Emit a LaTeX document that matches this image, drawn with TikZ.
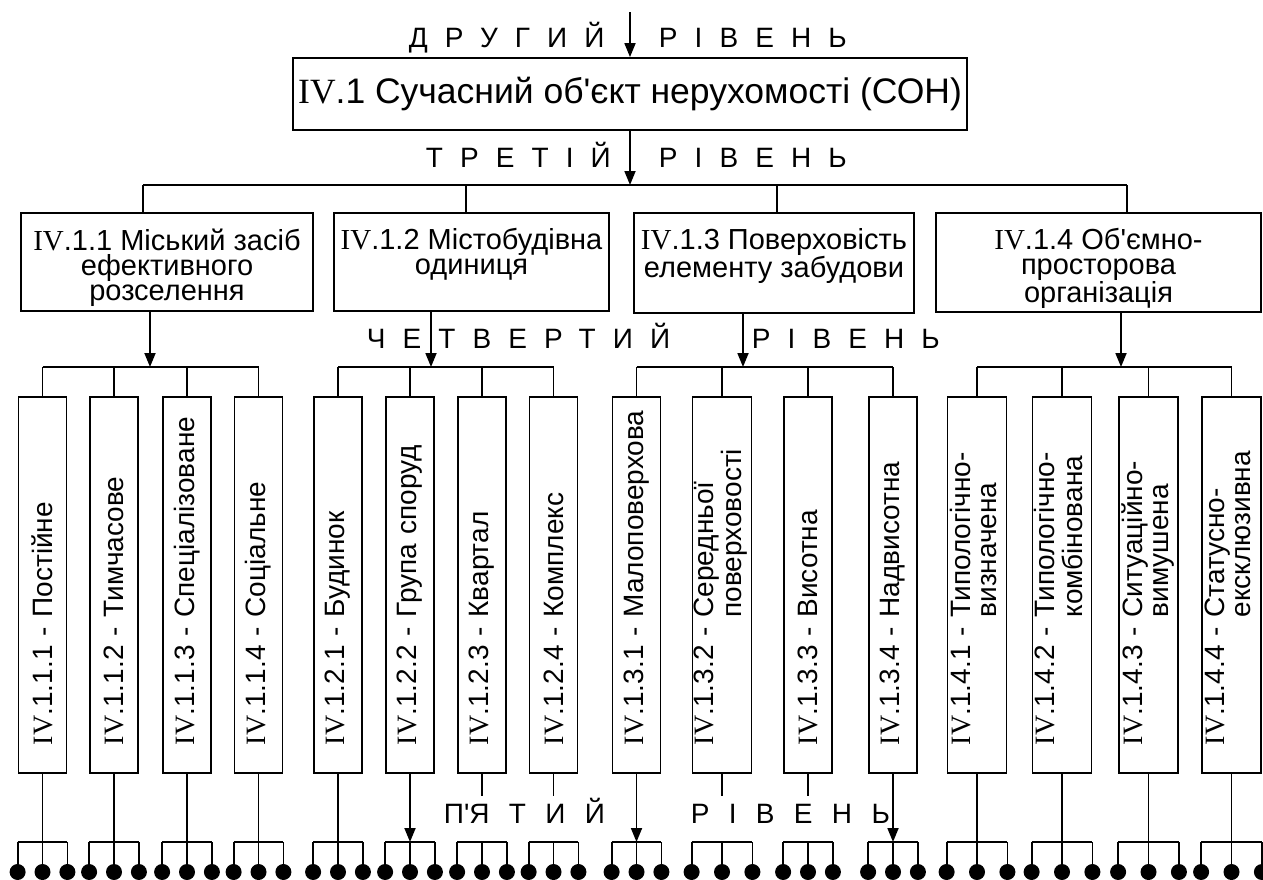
\documentclass[tikz,border=0pt]{standalone}
\usepackage{fontspec}
\setmainfont{Liberation Sans}
\newfontfamily\romfont{Liberation Serif}
\newfontfamily\widefont[LetterSpace=61]{Liberation Sans}
\newfontfamily\widerfont[LetterSpace=69]{Liberation Sans}
\usetikzlibrary{arrows.meta, calc}
\newcommand{\IV}{{\romfont IV}}
\newcommand{\twoline}[2]{\begin{tabular}[t]{@{}l@{}}#1\\#2\end{tabular}}
\newcommand{\toppad}{\rule{0pt}{33pt}}

\begin{document}
\begin{tikzpicture}[
  x=1pt, y=1pt,
  line width=1.8pt,
  topbox/.style={draw, minimum width=674pt, minimum height=72pt, inner sep=0pt,
                 font=\fontsize{35.5}{40}\selectfont},
  midbox/.style={draw, anchor=north, minimum height=98pt, inner xsep=4pt,
                 align=center, font=\fontsize{29}{25}\selectfont},
  tallbox/.style={draw, rotate=90, minimum width=376pt, minimum height=48pt,
                  text width=320pt, inner xsep=28pt, inner ysep=0pt, align=left,
                  font=\fontsize{28}{26}\selectfont,
                  execute at begin node={\hbox\bgroup},
                  execute at end node={\egroup}},
  wide/.style={minimum height=59pt},
  lvl/.style={anchor=base west, inner sep=0pt, font=\widefont\fontsize{28}{28}\selectfont},
  lvlb/.style={lvl, font=\widerfont\fontsize{28}{28}\selectfont},
  arr/.style={-{Triangle[length=14pt, width=11pt]}},
]
\useasboundingbox (0,0) rectangle (1263,-879);

% ── second level ─────────────────────────────────────────────────────────────
\coordinate (entry) at (630,-12);
\node[lvl] (l2a) at (408,-47) {ДРУГИЙ};
\node[lvl] (l2b) at (658,-47) {РІВЕНЬ};
\node[topbox] (son) at (630,-94)
    {\IV.1 Сучасний об\textquotesingle єкт нерухомості (СОН)};
\draw[arr] (entry) -- (son.north);

% ── third level ──────────────────────────────────────────────────────────────
\node[lvl] (l3a) at (425,-167) {ТРЕТІЙ};
\node[lvl] (l3b) at (658,-167) {РІВЕНЬ};
\coordinate (bus3) at (0,-185);
\node[midbox, minimum width=292pt] (b1) at (167,-212)
    {\toppad\IV.1.1 Міський засіб\\ефективного\\розселення};
\node[midbox, minimum width=275pt] (b2) at (471.5,-212)
    {\toppad\IV.1.2 Містобудівна\\одиниця\\\strut};
\node[midbox, minimum width=280pt] (b3) at (774,-212)
    {\toppad\IV.1.3 Поверховість\\елементу забудови\\\strut};
\node[midbox, minimum width=325pt] (b4) at (1098.5,-212)
    {\toppad\IV.1.4 Об\textquotesingle ємно-\\просторова\\організація};
\coordinate (d1) at (143,-185);
\coordinate (d2) at (466,-185);
\coordinate (d3) at (777,-185);
\coordinate (d4) at (1127,-185);
\draw[arr] (son.south) -- (son.south |- bus3);
\draw (d1) -- (d4);
\draw (d1) -- (d1 |- b1.north);
\draw (d2) -- (d2 |- b2.north);
\draw (d3) -- (d3 |- b3.north);
\draw (d4) -- (d4 |- b4.north);

% ── fourth level ─────────────────────────────────────────────────────────────
\node[lvl] (l4a) at (366,-348) {ЧЕТВЕРТИЙ};
\node[lvl] (l4b) at (751,-348) {РІВЕНЬ};
\coordinate (bus4) at (0,-367);
\node[tallbox] (t11) at (42.5,-585) {\IV.1.1.1 - Постійне};
\node[tallbox] (t12) at (114,-585) {\IV.1.1.2 - Тимчасове};
\node[tallbox] (t13) at (187,-585) {\IV.1.1.3 - Спеціалізоване};
\node[tallbox] (t14) at (258.5,-585) {\IV.1.1.4 - Соціальне};
\node[tallbox] (t21) at (338,-585) {\IV.1.2.1 - Будинок};
\node[tallbox] (t22) at (410,-585) {\IV.1.2.2 - Група споруд};
\node[tallbox] (t23) at (482,-585) {\IV.1.2.3 - Квартал};
\node[tallbox] (t24) at (553.5,-585) {\IV.1.2.4 - Комплекс};
\node[tallbox] (t31) at (636.5,-585) {\IV.1.3.1 - Малоповерхова};
\node[tallbox, wide] (t32) at (722,-585)
    {\IV.1.3.2 - \twoline{Середньої}{поверховості}};
\node[tallbox] (t33) at (808,-585) {\IV.1.3.3 - Висотна};
\node[tallbox] (t34) at (893,-585) {\IV.1.3.4 - Надвисотна};
\node[tallbox, wide] (t41) at (977,-585)
    {\IV.1.4.1 - \twoline{Типологічно-}{визначена}};
\node[tallbox, wide] (t42) at (1062,-585)
    {\IV.1.4.2 - \twoline{Типологічно-}{комбінована}};
\node[tallbox, wide] (t43) at (1148.5,-585)
    {\IV.1.4.3 - \twoline{Ситуаційно-}{вимушена}};
\node[tallbox, wide] (t44) at (1231.5,-585)
    {\IV.1.4.4 - \twoline{Статусно-}{ексклюзивна}};

\draw[arr] (b1.south -| 150,0) -- (bus4 -| 150,0);
\draw[arr] (b2.south -| 431,0) -- (bus4 -| 431,0);
\draw[arr] (b3.south -| 743,0) -- (bus4 -| 743,0);
\draw[arr] (b4.south -| 1121,0) -- (bus4 -| 1121,0);
\draw (t11.east |- bus4) -- (t14.east |- bus4);
\draw (t21.east |- bus4) -- (t24.east |- bus4);
\draw (t31.east |- bus4) -- (t34.east |- bus4);
\draw (t41.east |- bus4) -- (t44.east |- bus4);
\foreach \t in {t11,t12,t13,t14,t21,t22,t23,t24,t31,t32,t33,t34,t41,t42,t43,t44}
  \draw (\t.east |- bus4) -- (\t.east);

% ── fifth level ──────────────────────────────────────────────────────────────
\node[lvlb] (l5a) at (443,-823) {П\textquotesingle ЯТИЙ};
\node[lvlb] (l5b) at (690,-823) {РІВЕНЬ};
\coordinate (bus5) at (0,-842);
\coordinate (tips) at (0,-872);
\foreach \t in {t11,t12,t13,t14,t21,t41,t42,t43,t44}
  \draw (\t.west) -- (\t.west |- bus5);
\foreach \t in {t22,t31,t34}
  \draw[arr] (\t.west) -- (\t.west |- bus5);
\foreach \t in {t23,t24,t32,t33}
  \draw (\t.west) -- ++(0,-22);
\foreach \t in {t11,t12,t13,t14,t21,t22,t23,t24,t31,t32,t33,t34,t41,t42,t43,t44}{
  \draw (\t.north west |- bus5) -- (\t.south west |- bus5);
  \foreach \a in {north west,west,south west}{
    \draw (\t.\a |- bus5) -- (\t.\a |- tips);
    \fill (\t.\a |- tips) circle (8pt);
  }
}

\end{tikzpicture}
\end{document}
